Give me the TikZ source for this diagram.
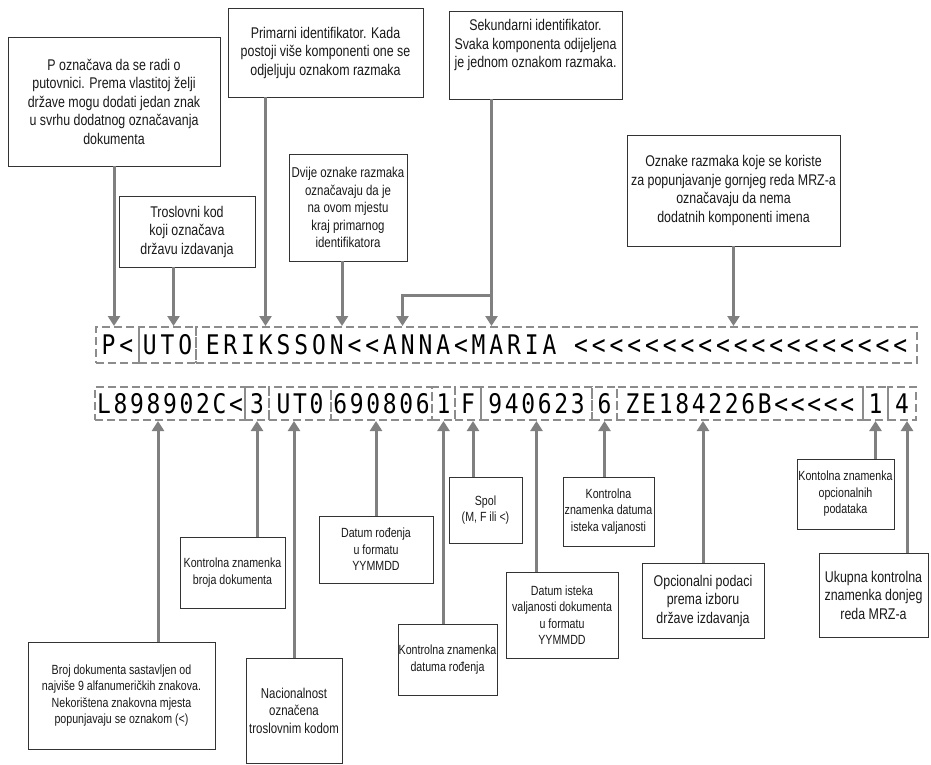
\documentclass[tikz,border=0pt]{standalone}
\usepackage{fontspec}
\setmainfont{Liberation Sans}
\newfontfamily\uskifont{Liberation Sans}[FakeStretch=0.8]
\newfontfamily\mrzgore{DejaVu Sans Mono}[FakeStretch=0.85,LetterSpace=14.5]
\newfontfamily\mrzdolje{DejaVu Sans Mono}[FakeStretch=0.85,LetterSpace=10]
\usetikzlibrary{arrows.meta}

\begin{document}
\begin{tikzpicture}[x=1pt,y=-1pt,
    okvir/.style={draw=black!80,line width=0.8pt,align=center,inner sep=0pt,text=black!90,font=\uskifont\fontsize{15.5}{18.5}\selectfont},
    mali/.style={font=\uskifont\fontsize{13.3}{16.5}\selectfont},
    srednji/.style={font=\uskifont\fontsize{14.3}{17.4}\selectfont},
    polje/.style={draw=black!45,line width=2pt,dash pattern=on 8pt off 4pt,inner sep=0pt,minimum height=#1},
    gore/.style={polje=36pt,font=\mrzgore\fontsize{27}{27}\selectfont},
    dolje/.style={polje=33pt,font=\mrzdolje\fontsize{27}{27}\selectfont},
    veza/.style={-{Triangle[width=12pt,length=10pt]},draw=black!50,line width=3pt}]
    \useasboundingbox (0,0) rectangle (931,764);

    %gornji red MRZ-a
    \node [gore,minimum width=43pt] (tP) at (117.5,345) {P<};
    \node [gore,minimum width=57pt] (tUTO) at (167.5,345) {UTO};
    \node [gore,minimum width=721pt] (tIme) at (556.5,345) {ERIKSSON<<ANNA<MARIA <<<<<<<<<<<<<<<<<<<};

    %donji red MRZ-a
    \node [dolje,minimum width=150pt] (b1) at (170,403.5) {L898902C<};
    \node [dolje,minimum width=24pt] (b2) at (257,403.5) {3};
    \node [dolje,minimum width=62pt] (b3) at (300,403.5) {UT0};
    \node [dolje,minimum width=101pt] (b4) at (381.5,403.5) {690806};
    \node [dolje,minimum width=23pt] (b5) at (443.5,403.5) {1};
    \node [dolje,minimum width=26pt] (b6) at (468,403.5) {F};
    \node [dolje,minimum width=111pt] (b7) at (536.5,403.5) {940623};
    \node [dolje,minimum width=25pt] (b8) at (604.5,403.5) {6};
    \node [dolje,minimum width=246pt] (b9) at (740,403.5) {ZE184226B<<<<<};
    \node [dolje,minimum width=25pt] (b10) at (875.5,403.5) {1};
    \node [dolje,minimum width=28pt] (b11) at (902,403.5) {4};

    %opisi iznad
    \node [okvir,minimum width=212pt,minimum height=129pt] (putovnica) at (114,101.5)
        {P označava da se radi o\\putovnici. Prema vlastitoj želji\\države mogu dodati jedan znak\\u svrhu dodatnog označavanja\\dokumenta};
    \node [okvir,minimum width=136pt,minimum height=71pt] (drzava) at (187,231.5)
        {Troslovni kod\\koji označava\\državu izdavanja};
    \node [okvir,minimum width=195pt,minimum height=89pt] (primarni) at (325.5,52.5)
        {Primarni identifikator. Kada\\postoji više komponenti one se\\odjeljuju oznakom razmaka};
    \node [okvir,srednji,minimum width=118pt,minimum height=107pt] (dvije) at (348,207.5)
        {Dvije oznake razmaka\\označavaju da je\\na ovom mjestu\\kraj primarnog\\identifikatora};
    \node [okvir,minimum width=173pt,minimum height=88pt] (sekundarni) at (535.5,55)
        {Sekundarni identifikator.\\Svaka komponenta odijeljena\\je jednom oznakom razmaka.\\[4pt]};
    \node [okvir,minimum width=213pt,minimum height=111pt] (popuna) at (733.5,190.5)
        {Oznake razmaka koje se koriste\\za popunjavanje gornjeg reda MRZ-a\\označavaju da nema\\dodatnih komponenti imena};

    %opisi ispod
    \node [okvir,mali,minimum width=187pt,minimum height=107pt] (broj) at (121.5,695.5)
        {Broj dokumenta sastavljen od\\najviše 9 alfanumeričkih znakova.\\Nekorištena znakovna mjesta\\popunjavaju se oznakom (<)};
    \node [okvir,mali,minimum width=105pt,minimum height=71pt] (kbroj) at (232.5,572.5)
        {Kontrolna znamenka\\broja dokumenta};
    \node [okvir,srednji,minimum width=96pt,minimum height=105pt] (nacija) at (294,710.5)
        {Nacionalnost\\označena\\troslovnim kodom};
    \node [okvir,mali,minimum width=114pt,minimum height=67pt] (rodjenje) at (376,549.5)
        {Datum rođenja\\u formatu\\YYMMDD};
    \node [okvir,mali,minimum width=99pt,minimum height=71pt] (krodjenje) at (447.5,659.5)
        {Kontrolna znamenka\\datuma rođenja};
    \node [okvir,mali,minimum width=73pt,minimum height=66pt] (spol) at (485.5,510)
        {Spol\\(M, F ili <)};
    \node [okvir,mali,minimum width=112pt,minimum height=86pt] (istek) at (562,615)
        {Datum isteka\\valjanosti dokumenta\\u formatu\\YYMMDD};
    \node [okvir,mali,minimum width=91pt,minimum height=69pt] (kistek) at (608.5,511.5)
        {Kontrolna\\znamenka datuma\\isteka valjanosti};
    \node [okvir,minimum width=122pt,minimum height=75pt] (opcija) at (703,600.5)
        {Opcionalni podaci\\prema izboru\\države izdavanja};
    \node [okvir,mali,minimum width=97pt,minimum height=70pt] (kopcija) at (845.5,494)
        {Kontolna znamenka\\opcionalnih\\podataka};
    \node [okvir,minimum width=109pt,minimum height=84pt] (ukupna) at (873.5,595)
        {Ukupna kontrolna\\znamenka donjeg\\reda MRZ-a};

    %strelice prema gornjem redu
    \draw [veza] (putovnica.south) -- (putovnica.south |- tP.north);
    \draw [veza] ([xshift=6pt]tUTO.north |- drzava.south) -- ([xshift=6pt]tUTO.north);
    \draw [veza] ([xshift=-60pt]primarni.south) -- ([xshift=-60pt]primarni.south |- tIme.north);
    \draw [veza] ([xshift=-6pt]dvije.south) -- ([xshift=-6pt]dvije.south |- tIme.north);
    \draw [veza] ([xshift=-44pt]sekundarni.south) -- ([xshift=-44pt]sekundarni.south |- tIme.north);
    \coordinate (grana) at ([xshift=-44pt]sekundarni.south |- 0,295);
    \draw [veza] (grana) -| ([xshift=-154pt]tIme.north);
    \draw [veza] (popuna.south) -- (popuna.south |- tIme.north);

    %strelice prema donjem redu
    \draw [veza] ([xshift=-12pt]b1.south |- broj.north) -- ([xshift=-12pt]b1.south);
    \draw [veza] (b2.south |- kbroj.north) -- (b2.south);
    \draw [veza] (nacija.north) -- (nacija.north |- b3.south);
    \draw [veza] (rodjenje.north) -- (rodjenje.north |- b4.south);
    \draw [veza] (b5.south |- krodjenje.north) -- (b5.south);
    \draw [veza] ([xshift=5pt]b6.south |- spol.north) -- ([xshift=5pt]b6.south);
    \draw [veza] (b7.south |- istek.north) -- (b7.south);
    \draw [veza] (b8.south |- kistek.north) -- (b8.south);
    \draw [veza] (opcija.north) -- (opcija.north |- b9.south);
    \draw [veza] (b10.south |- kopcija.north) -- (b10.south);
    \draw [veza] ([xshift=5pt]b11.south |- ukupna.north) -- ([xshift=5pt]b11.south);
\end{tikzpicture}
\end{document}
